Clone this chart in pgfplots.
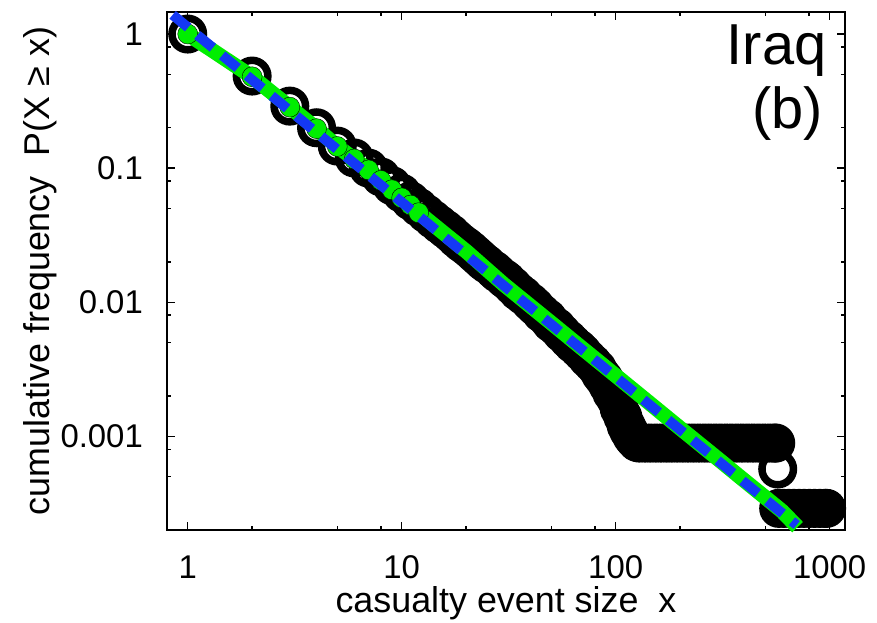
\documentclass[border=0pt]{standalone}
\usepackage{fontspec}
\setmainfont{Liberation Sans}
\usepackage{pgfplots}
\pgfplotsset{compat=1.18}
\definecolor{fitgreen}{HTML}{00EE00}
\definecolor{fitblue}{HTML}{1438F5}
\begin{document}
\begin{tikzpicture}
\begin{axis}[
  scale only axis, width=678bp, height=518bp,
  xmode=log, ymode=log,
  xmin=0.8, xmax=1180, ymin=0.0002, ymax=1.46,
  clip=false, clip marker paths=true,
  axis line style={line width=1.6bp},
  every tick/.style={black,line width=1.4bp},
  major tick length=8bp, minor tick length=4bp,
  xtick={1,10,100,1000}, xticklabels={1,10,100,1000},
  ytick={0.001,0.01,0.1,1}, yticklabels={0.001,0.01,0.1,1},
  minor xtick={2,5,8,20,50,80,200,500,800},
  minor ytick={0.0005,0.0008,0.002,0.005,0.008,0.02,0.05,0.08,0.2,0.5,0.8},
  xticklabel style={font=\fontsize{33}{36}\selectfont,inner sep=0pt,anchor=base,yshift=-48bp},
  yticklabel style={font=\fontsize{33}{36}\selectfont,inner sep=0pt,anchor=east,xshift=-24bp},
  xlabel={casualty event size\ \ x},
  ylabel={cumulative frequency\ \ P(X ≥ x)},
  label style={font=\fontsize{36}{40}\selectfont,inner sep=0pt},
  xlabel style={at={(axis description cs:0.5,-0.1602)},anchor=base},
  ylabel style={at={(axis description cs:-0.1726,0.5)},anchor=base},
]
% empirical CCDF (black open circles)
\addplot[only marks, mark=o, mark size=15.75bp, mark options={line width=7.5bp,draw=black}]
  coordinates {
  (1,1.0)(2,0.486)(3,0.29)(4,0.20)(5,0.146)(6,0.119)(7,0.100)(8,0.086)(9,0.074)(10,0.065)
  (11,0.057)(12,0.051)(13,0.0458)(14,0.0415)(15,0.038)(16,0.0351)(17,0.0325)(18,0.0298)(19,0.0277)(20,0.0261)
  (21,0.0245)(22,0.0229)(23,0.0215)(24,0.0202)(25,0.0192)(27,0.0174)(28,0.0165)(30,0.0151)(31,0.0145)(33,0.0132)
  (35,0.0120)(37,0.0112)(40,0.0100)(42,0.0093)(45,0.0083)(48,0.0076)(50,0.0070)(53,0.0065)(56,0.0059)(60,0.0053)
  (63,0.0049)(67,0.0045)(70,0.0042)(74,0.0038)(78,0.0035)(82,0.0032)(85,0.0029)(88,0.0027)(92,0.0024)(96,0.0021)
  (100,0.0019)(104,0.0016)(108,0.0014)(112,0.0012)(115,0.0011)(119,0.00100)(122,0.00095)(126,0.00090)
  (129,0.00089)(137,0.00089)(145,0.00089)(154,0.00089)(163,0.00089)(173,0.00089)(183,0.00089)(194,0.00089)
  (206,0.00089)(218,0.00089)(231,0.00089)(245,0.00089)(260,0.00089)(275,0.00089)(292,0.00089)(309,0.00089)
  (328,0.00089)(347,0.00089)(368,0.00089)(390,0.00089)(414,0.00089)(439,0.00089)(465,0.00089)(493,0.00089)
  (522,0.00089)(553,0.00089)(560,0.00089)
  (572,0.00057)
  (578,0.00029)(610,0.00029)(645,0.00029)(680,0.00029)(720,0.00029)(760,0.00029)(805,0.00029)(850,0.00029)
  (900,0.00029)(950,0.00029)(968,0.00029)
  };
% model CCDF (green)
\addplot[fitgreen, line width=15bp, line join=round]
  coordinates {
  (1,1.0)(2,0.48)(3,0.285)(4,0.197)(5,0.145)(6,0.117)(7,0.097)(8,0.081)(9,0.069)(10,0.060)
  (11,0.053)(12,0.0465)(15,0.0348)(20,0.024)(30,0.01357)(50,0.0070)(70,0.00451)(100,0.00284)
  (150,0.001675)(200,0.00115)(300,0.00068)(400,0.000467)(500,0.00035)(600,0.000276)(708,0.00021)
  };
\addplot[only marks, mark=*, mark size=10bp, mark options={fill=fitgreen,draw=none}]
  coordinates {
  (1,1.0)(2,0.48)(3,0.285)(4,0.197)(5,0.145)(6,0.117)(7,0.097)(8,0.081)(9,0.069)(10,0.060)
  (11,0.053)(12,0.0465)
  };
% power-law fit (blue dashed)
\addplot[fitblue, line width=10bp, dash pattern=on 20bp off 12bp]
  coordinates {(0.85,1.39)(701,0.000218)};
\node[font=\fontsize{58}{60}\selectfont,inner sep=0pt,anchor=base east]
  at (axis description cs:0.973,0.898) {Iraq};
\node[font=\fontsize{58}{60}\selectfont,inner sep=0pt,anchor=base east]
  at (axis description cs:0.9676,0.776) {(b)};
\end{axis}
\pgfresetboundingbox
\path (current axis.south west) ++(-167bp,-93bp) rectangle ++(877bp,623bp);
\end{tikzpicture}
\end{document}
